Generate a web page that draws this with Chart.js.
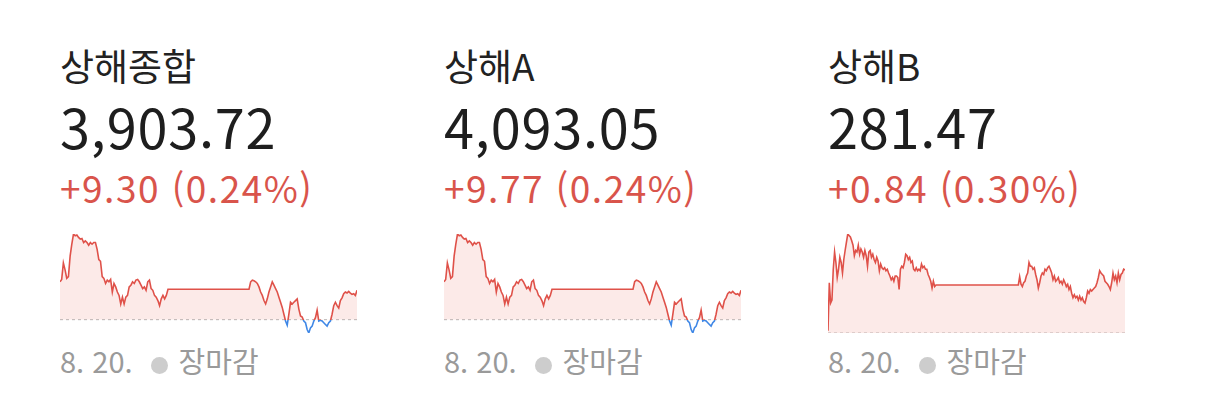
<!DOCTYPE html>
<html lang="ko">
<head>
<meta charset="utf-8">
<script src="https://cdn.jsdelivr.net/npm/chart.js@4"></script>
<style>
  html, body { margin: 0; padding: 0; background: #fff; }
  body { width: 1206px; height: 410px; position: relative; overflow: hidden;
         font-family: "Noto Sans CJK KR", "Noto Sans", sans-serif; }
  .card { position: absolute; top: 0; width: 384px; height: 410px; }
  .name, .price, .change, .foot { position: absolute; left: 0; white-space: nowrap; line-height: 1; }
  .name { top: 47px; font-size: 37px; color: #222; }
  .price { top: 99px; font-size: 54px; color: #1e1e1e; letter-spacing: 0.8px; }
  .change { top: 169px; font-size: 37px; color: #d9544b; letter-spacing: 1.5px; }
  .foot { top: 346px; font-size: 29px; color: #9a9a9a; }
  .dot { display: inline-block; width: 17px; height: 17px; border-radius: 50%;
         background: #cdcdcd; margin: 0 11px 0 18px; vertical-align: -1px; }
  .spark { position: absolute; left: -4px; top: 230px; }
</style>
</head>
<body>

<div class="card" style="left:60px">
  <div class="name">상해종합</div>
  <div class="price">3,903.72</div>
  <div class="change">+9.30 (0.24%)</div>
  <canvas class="spark" id="c1" width="305" height="107"></canvas>
  <div class="foot">8. 20.<span class="dot"></span>장마감</div>
</div>

<div class="card" style="left:444px">
  <div class="name">상해A</div>
  <div class="price">4,093.05</div>
  <div class="change">+9.77 (0.24%)</div>
  <canvas class="spark" id="c2" width="305" height="107"></canvas>
  <div class="foot">8. 20.<span class="dot"></span>장마감</div>
</div>

<div class="card" style="left:828px">
  <div class="name">상해B</div>
  <div class="price">281.47</div>
  <div class="change">+0.84 (0.30%)</div>
  <canvas class="spark" id="c3" width="305" height="107"></canvas>
  <div class="foot">8. 20.<span class="dot"></span>장마감</div>
</div>

<script>
// 전일 종가
const prevClose1 = 3894.42;
const prevClose2 = 4083.28;
const prevClose3 = 280.63;

// 오전장 09:30-11:30, 오후장 13:00-15:00 (분 단위 등간격)
const amComp = [3906.42, 3907.18, 3912.37, 3910.20, 3907.50, 3908.04, 3914.53, 3918.31, 3921.55, 3921.01,
  3921.23, 3920.47, 3919.93, 3920.15, 3918.85, 3919.39, 3918.85, 3917.99, 3918.85, 3918.31,
  3918.85, 3918.85, 3916.69, 3913.45, 3912.91, 3908.04, 3907.50, 3905.88, 3906.96, 3906.42,
  3907.18, 3903.18, 3905.88, 3904.80, 3903.18, 3902.10, 3899.39, 3901.55, 3899.39, 3901.55,
  3902.10, 3904.80, 3905.34, 3906.42, 3905.88, 3906.96, 3907.18, 3906.42, 3905.34, 3904.26,
  3904.80, 3903.72, 3906.42, 3906.96, 3904.26, 3903.72, 3902.10, 3901.55, 3900.47, 3898.85,
  3901.01, 3902.10, 3901.01, 3902.10, 3904.04];
const pmComp = [3904.04, 3906.42, 3906.96, 3906.74, 3906.42, 3905.88, 3904.80, 3903.18, 3902.10, 3900.47,
  3899.39, 3901.01, 3903.18, 3904.80, 3906.42, 3905.34, 3904.26, 3903.18, 3901.55, 3899.93,
  3898.31, 3896.15, 3893.99, 3892.69, 3896.15, 3899.93, 3899.39, 3899.93, 3900.47, 3901.01,
  3897.77, 3895.61, 3895.28, 3893.99, 3893.45, 3891.29, 3890.20, 3891.83, 3892.37, 3893.99,
  3895.07, 3897.45, 3893.99, 3894.20, 3893.99, 3893.45, 3892.91, 3892.37, 3893.45, 3893.99,
  3896.15, 3898.85, 3899.93, 3898.85, 3898.10, 3900.47, 3901.34, 3902.64, 3903.18, 3902.85,
  3903.39, 3902.85, 3902.42, 3902.64, 3902.10, 3903.72];

const amA = [4095.89, 4096.68, 4102.14, 4099.86, 4097.02, 4097.59, 4104.41, 4108.38, 4111.78, 4111.21,
  4111.44, 4110.65, 4110.08, 4110.31, 4108.94, 4109.51, 4108.94, 4108.04, 4108.94, 4108.38,
  4108.94, 4108.94, 4106.67, 4103.27, 4102.70, 4097.59, 4097.02, 4095.32, 4096.45, 4095.89,
  4096.68, 4092.48, 4095.32, 4094.18, 4092.48, 4091.35, 4088.50, 4090.77, 4088.50, 4090.77,
  4091.35, 4094.18, 4094.75, 4095.89, 4095.32, 4096.45, 4096.68, 4095.89, 4094.75, 4093.62,
  4094.18, 4093.05, 4095.89, 4096.45, 4093.62, 4093.05, 4091.35, 4090.77, 4089.64, 4087.93,
  4090.20, 4091.35, 4090.20, 4091.35, 4093.39];
const pmA = [4093.39, 4095.89, 4096.45, 4096.22, 4095.89, 4095.32, 4094.18, 4092.48, 4091.35, 4089.64,
  4088.50, 4090.20, 4092.48, 4094.18, 4095.89, 4094.75, 4093.62, 4092.48, 4090.77, 4089.07,
  4087.37, 4085.10, 4082.83, 4081.46, 4085.10, 4089.07, 4088.50, 4089.07, 4089.64, 4090.20,
  4086.80, 4084.53, 4084.18, 4082.83, 4082.26, 4079.99, 4078.85, 4080.56, 4081.13, 4082.83,
  4083.96, 4086.46, 4082.83, 4083.05, 4082.83, 4082.26, 4081.69, 4081.13, 4082.26, 4082.83,
  4085.10, 4087.93, 4089.07, 4087.93, 4087.15, 4089.64, 4090.55, 4091.92, 4092.48, 4092.14,
  4092.70, 4092.14, 4091.68, 4091.92, 4091.35, 4093.05];

const amB = [280.66, 281.30, 281.03, 281.07, 281.48, 281.71, 281.57, 281.37, 281.48, 281.64,
  281.57, 281.43, 281.61, 281.73, 281.84, 281.95, 281.93, 281.91, 281.86, 281.80,
  281.66, 281.73, 281.71, 281.80, 281.68, 281.75, 281.71, 281.64, 281.73, 281.66,
  281.52, 281.71, 281.73, 281.64, 281.68, 281.61, 281.57, 281.64, 281.59, 281.46,
  281.55, 281.50, 281.48, 281.50, 281.46, 281.48, 281.43, 281.39, 281.34, 281.37,
  281.32, 281.39, 281.39, 281.37, 281.21, 281.48, 281.52, 281.50, 281.57, 281.68,
  281.66, 281.61, 281.64, 281.57, 281.59, 281.48, 281.46, 281.50, 281.46, 281.48,
  281.46, 281.55, 281.50, 281.52, 281.48, 281.48, 281.41, 281.37, 281.32, 281.23,
  281.32, 281.25, 281.27];
const pmB = [281.27, 281.27, 281.38, 281.28, 281.25, 281.30, 281.32, 281.39, 281.43, 281.57,
  281.52, 281.52, 281.48, 281.50, 281.41, 281.34, 281.23, 281.30, 281.39, 281.43,
  281.41, 281.48, 281.46, 281.50, 281.52, 281.48, 281.43, 281.34, 281.39, 281.32,
  281.34, 281.37, 281.30, 281.32, 281.28, 281.34, 281.30, 281.25, 281.28, 281.21,
  281.25, 281.16, 281.10, 281.14, 281.10, 281.12, 281.07, 281.12, 281.07, 281.10,
  281.05, 281.03, 281.10, 281.19, 281.16, 281.21, 281.19, 281.21, 281.23, 281.25,
  281.30, 281.37, 281.46, 281.43, 281.41, 281.39, 281.32, 281.30, 281.28, 281.25,
  281.21, 281.30, 281.43, 281.34, 281.39, 281.30, 281.43, 281.34, 281.41, 281.43,
  281.48, 281.47];

const RED = '#df5149';
const BLUE = '#3f87e6';
const PINK = 'rgba(230, 90, 80, 0.13)';

// 09:30 = 0분, 11:30 = 120분, 13:00 = 210분, 15:00 = 330분
function toPoints(am, pm) {
  const pts = [];
  am.forEach((v, i) => pts.push({ x: i * 120 / (am.length - 1), y: v }));
  pm.forEach((v, i) => pts.push({ x: 210 + i * 120 / (pm.length - 1), y: v }));
  return pts;
}

// 전일 종가 위는 빨강, 아래는 파랑
function splitColor(prev, top, bottom) {
  return function (context) {
    const chart = context.chart;
    const { ctx, chartArea, scales } = chart;
    if (!chartArea) return top;
    const y0 = scales.y.getPixelForValue(prev);
    let stop = (y0 - chartArea.top) / (chartArea.bottom - chartArea.top);
    stop = Math.min(1, Math.max(0, stop));
    const g = ctx.createLinearGradient(0, chartArea.top, 0, chartArea.bottom);
    g.addColorStop(0, top);
    g.addColorStop(stop, top);
    g.addColorStop(stop, bottom);
    g.addColorStop(1, bottom);
    return g;
  };
}

function generarSpark(id, am, pm, prev) {
  const all = am.concat(pm);
  const ctx = document.getElementById(id).getContext('2d');
  return new Chart(ctx, {
    type: 'line',
    data: {
      datasets: [
        {
          data: toPoints(am, pm),
          borderColor: splitColor(prev, RED, BLUE),
          borderWidth: 1.6,
          pointRadius: 0,
          tension: 0,
          fill: { target: { value: prev }, above: PINK, below: 'rgba(0,0,0,0)' }
        },
        {
          data: [{ x: 0, y: prev }, { x: 330, y: prev }],
          borderColor: '#b9b9b9',
          borderWidth: 1,
          borderDash: [3, 3],
          pointRadius: 0,
          fill: false
        }
      ]
    },
    options: {
      responsive: false,
      animation: false,
      events: [],
      layout: { padding: 4 },
      plugins: { legend: { display: false }, tooltip: { enabled: false } },
      scales: {
        x: { type: 'linear', min: 0, max: 330, display: false },
        y: { min: Math.min(prev, ...all), max: Math.max(...all), display: false }
      }
    }
  });
}

generarSpark('c1', amComp, pmComp, prevClose1);
generarSpark('c2', amA, pmA, prevClose2);
generarSpark('c3', amB, pmB, prevClose3);
</script>
</body>
</html>
